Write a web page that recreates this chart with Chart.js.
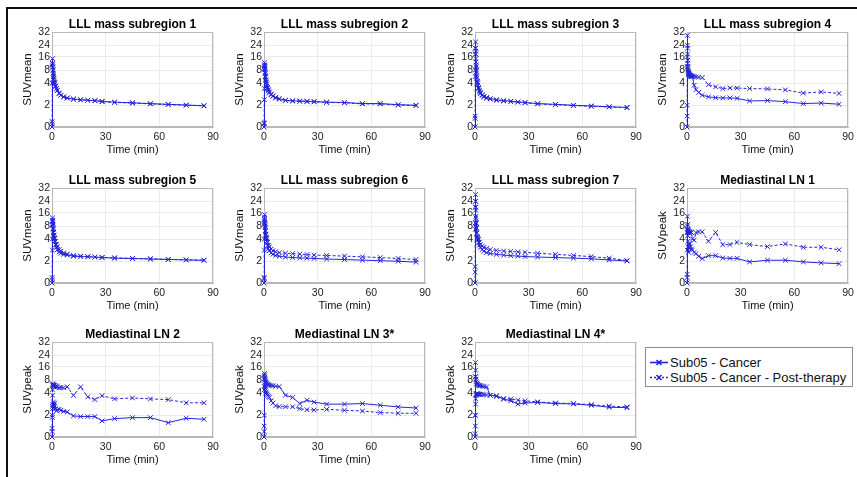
<!DOCTYPE html>
<html><head><meta charset="utf-8">
<script src="https://cdn.jsdelivr.net/npm/chart.js@4.4.1/dist/chart.umd.min.js"></script>
<style>
html,body{margin:0;padding:0;background:#fff;width:857px;height:477px;overflow:hidden;font-family:"Liberation Sans",Arial,sans-serif;}
#frame{position:absolute;left:6px;top:7px;width:870px;height:490px;border-left:2px solid #111;border-top:2px solid #111;}
canvas{position:absolute;}
#legend{position:absolute;left:645px;top:347px;width:208px;height:40px;border:1px solid #8a8a8a;background:#fff;box-sizing:border-box;}
.row{position:absolute;left:3px;height:15px;font-size:13px;line-height:15px;color:#111;white-space:nowrap;}
.row svg{position:absolute;left:0;top:3px;}
.row span{position:absolute;left:21px;top:0;}
</style></head><body>
<div id="frame"></div>
<script>
// ---- data ----
const TIME = [0, 0.08, 0.17, 0.25, 0.33, 0.42, 0.5, 0.67, 0.83, 1.0, 1.25, 1.5, 2.0, 2.5, 3.0, 4.0, 5.0, 6.5, 8.5, 12, 16, 20, 24, 28, 35, 45, 55, 65, 75, 85];
const X_TICKS = [0, 30, 60, 90];
const Y_TICKS = [0, 2, 4, 8, 16, 24, 32];
const TITLES = ["LLL mass subregion 1", "LLL mass subregion 2", "LLL mass subregion 3", "LLL mass subregion 4",
  "LLL mass subregion 5", "LLL mass subregion 6", "LLL mass subregion 7", "Mediastinal LN 1",
  "Mediastinal LN 2", "Mediastinal LN 3*", "Mediastinal LN 4*"];
const Y_LABELS = ["SUVmean", "SUVmean", "SUVmean", "SUVmean", "SUVmean", "SUVmean", "SUVmean",
  "SUVpeak", "SUVpeak", "SUVpeak", "SUVpeak"];
const SERIES_NAMES = ["Sub05 - Cancer", "Sub05 - Cancer - Post-therapy"];

const C1 = [0, 0.3, 4, 12, 15, 12, 10, 8, 6.5, 5.5, 4.2, 3.9, 3.7, 3.5, 3.3, 3.05, 2.9, 2.75, 2.65, 2.55, 2.5, 2.45, 2.42, 2.35, 2.28, 2.22, 2.15, 2.08, 2.02, 1.96];
const P1 = [0, 0.5, 4, 11, 12, 9.5, 8, 7, 6, 5, 4.3, 4.0, 3.75, 3.5, 3.35, 3.1, 2.9, 2.75, 2.65, 2.55, 2.48, 2.45, 2.4, 2.32, 2.25, 2.2, 2.12, 2.06, 2.0, 1.94];
const C2 = [0, 0.4, 3.5, 10, 12.5, 11, 9, 7.5, 6, 5, 4.3, 3.9, 3.6, 3.4, 3.2, 3.0, 2.85, 2.7, 2.6, 2.45, 2.4, 2.38, 2.36, 2.34, 2.28, 2.25, 2.15, 2.15, 2.05, 2.0];
const P2 = [0, 0.3, 2.5, 9, 11, 10, 8.5, 7, 5.8, 4.8, 4.1, 3.7, 3.5, 3.3, 3.1, 2.95, 2.8, 2.65, 2.55, 2.42, 2.38, 2.35, 2.33, 2.3, 2.25, 2.22, 2.12, 2.12, 2.02, 1.97];
const C3 = [0, 1, 8, 22, 26, 20, 15, 11, 8, 6, 4.5, 4.0, 3.6, 3.35, 3.15, 2.95, 2.8, 2.7, 2.6, 2.5, 2.42, 2.36, 2.3, 2.25, 2.15, 2.08, 2.0, 1.93, 1.86, 1.8];
const P3 = [0, 0.8, 6, 18, 22, 18, 13, 10, 7.5, 5.5, 4.3, 3.8, 3.5, 3.25, 3.05, 2.88, 2.74, 2.64, 2.55, 2.45, 2.38, 2.33, 2.28, 2.22, 2.12, 2.05, 1.97, 1.9, 1.84, 1.77];
const C4 = [0, 2, 16, 30, 22, 14, 10, 8, 7.2, 6.8, 6.5, 6.3, 6.1, 6.0, 5.9, 3.8, 3.4, 3.15, 2.9, 2.76, 2.68, 2.65, 2.66, 2.62, 2.38, 2.42, 2.32, 2.15, 2.2, 2.09];
const P4 = [0, 1, 10, 24, 18, 12, 9, 7.5, 7, 6.7, 6.5, 6.4, 6.3, 6.2, 6.1, 6.0, 5.9, 5.8, 5.7, 3.85, 3.65, 3.5, 3.56, 3.55, 3.5, 3.47, 3.38, 3.09, 3.2, 3.06];
const C5 = [0, 0.5, 4, 11, 13, 11, 9, 7.5, 6, 5, 4.2, 3.8, 3.5, 3.25, 3.05, 2.85, 2.72, 2.62, 2.55, 2.45, 2.42, 2.4, 2.37, 2.33, 2.28, 2.24, 2.2, 2.16, 2.12, 2.08];
const P5 = [0, 0.3, 3, 9, 11.5, 10, 8.5, 7, 6, 5.2, 4.5, 4.1, 3.8, 3.5, 3.3, 3.05, 2.9, 2.75, 2.65, 2.52, 2.46, 2.42, 2.38, 2.35, 2.3, 2.26, 2.22, 2.17, 2.13, 2.1];
const C6 = [0, 0.5, 4, 12, 15, 12, 9.5, 8, 6.5, 5.2, 4.3, 3.8, 3.4, 3.15, 2.95, 2.75, 2.62, 2.52, 2.45, 2.38, 2.33, 2.3, 2.28, 2.25, 2.2, 2.15, 2.1, 2.05, 2.0, 1.92];
const P6 = [0, 0.4, 3, 10, 13, 11, 9, 7.5, 6.5, 5.5, 4.6, 4.1, 3.7, 3.45, 3.3, 3.1, 2.95, 2.85, 2.78, 2.72, 2.68, 2.64, 2.6, 2.56, 2.52, 2.46, 2.4, 2.33, 2.25, 2.15];
const C7 = [0, 1.5, 10, 24, 28, 20, 14, 10, 7.5, 5.8, 4.5, 4.0, 3.7, 3.45, 3.25, 3.05, 2.9, 2.78, 2.7, 2.62, 2.55, 2.5, 2.46, 2.42, 2.38, 2.33, 2.28, 2.22, 2.12, 2.02];
const P7 = [0, 1, 7, 20, 24, 18, 13, 9.5, 7.2, 5.8, 4.8, 4.3, 3.95, 3.7, 3.5, 3.35, 3.25, 3.15, 3.05, 2.98, 2.92, 2.88, 2.84, 2.8, 2.72, 2.62, 2.52, 2.42, 2.28, 2.06];
const C8 = [0, 0.8, 6, 14, 9, 5, 3.8, 3.3, 2.8, 3.2, 3.5, 3.6, 3.3, 3.1, 3.0, 2.8, 2.68, 2.45, 2.24, 2.5, 2.5, 2.29, 2.26, 2.26, 1.94, 2.09, 2.09, 1.94, 1.85, 1.78];
const P8 = [0, 0.5, 3, 8, 7, 6.5, 6.8, 6.2, 6.5, 6.0, 6.3, 5.8, 6.2, 6.0, 4.0, 3.9, 6.0, 6.2, 6.2, 3.8, 6.0, 3.5, 3.5, 3.7, 3.5, 3.32, 3.56, 3.26, 3.26, 3.03];
const C9 = [0, 0.8, 1.8, 2.8, 3.8, 3.0, 2.6, 2.9, 3.2, 2.7, 2.9, 3.1, 2.6, 2.4, 2.5, 2.53, 2.45, 2.35, 2.29, 1.94, 1.88, 1.88, 1.88, 1.48, 1.69, 1.78, 1.78, 1.32, 1.72, 1.63];
const P9 = [0, 0.5, 2, 5, 6.8, 6.5, 6.2, 6.6, 6.0, 6.4, 6.1, 6.3, 5.8, 6.2, 5.9, 5.6, 5.7, 5.6, 5.9, 3.79, 5.9, 3.65, 3.41, 3.76, 3.47, 3.56, 3.47, 3.41, 3.12, 3.12];
const C10 = [0, 1, 5, 11, 12, 10, 9, 8, 7.5, 7.2, 7, 6.8, 6.6, 6.5, 6.4, 6.3, 6.2, 6.1, 6.0, 3.8, 3.6, 3.05, 3.35, 3.18, 3.0, 3.0, 3.05, 2.9, 2.75, 2.65];
const P10 = [0, 0.5, 2, 6, 9, 8, 6.5, 5.5, 4.8, 4.3, 4.0, 3.9, 3.8, 3.7, 3.6, 3.3, 3.1, 2.85, 2.78, 2.76, 2.76, 2.6, 2.5, 2.47, 2.53, 2.45, 2.38, 2.24, 2.18, 2.18];
const C11 = [0, 2, 10, 19, 14, 10, 8.5, 7.5, 7, 6.8, 6.6, 6.5, 6.4, 6.3, 6.2, 6.1, 6.0, 5.9, 3.8, 3.7, 3.45, 3.3, 3.0, 3.1, 3.15, 3.05, 3.02, 2.9, 2.72, 2.68];
const P11 = [0, 0.3, 1, 2, 3, 3.5, 3.8, 3.9, 3.92, 3.93, 3.92, 3.9, 3.9, 3.88, 3.88, 3.87, 3.85, 3.83, 3.8, 3.75, 3.5, 3.45, 3.35, 3.3, 3.2, 3.1, 3.05, 2.95, 2.82, 2.75];

const CANCER = [C1, C2, C3, C4, C5, C6, C7, C8, C9, C10, C11];
const POST = [P1, P2, P3, P4, P5, P6, P7, P8, P9, P10, P11];

// ---- styling / layout ----
const BLUE = '#2424d6';
const FONT = '"Liberation Sans", Arial, sans-serif';
const COL_LEFT = [8, 220, 431, 643];
const ROW_TOP = [8, 164, 318];
// fractional height of each y tick (the reference axis is non-uniform)
const Y_TICK_POS = [0, 0.229, 0.463, 0.6, 0.737, 0.86, 1];

function yFrac(v) {
  if (v <= Y_TICKS[0]) return Y_TICK_POS[0];
  for (let i = 0; i < Y_TICKS.length - 1; i++) {
    if (v <= Y_TICKS[i + 1]) {
      const t = (v - Y_TICKS[i]) / (Y_TICKS[i + 1] - Y_TICKS[i]);
      return Y_TICK_POS[i] + t * (Y_TICK_POS[i + 1] - Y_TICK_POS[i]);
    }
  }
  return 1;
}
function yInv(f) {
  for (let i = 0; i < Y_TICKS.length - 1; i++) {
    if (f <= Y_TICK_POS[i + 1]) {
      const t = (f - Y_TICK_POS[i]) / (Y_TICK_POS[i + 1] - Y_TICK_POS[i]);
      return Y_TICKS[i] + t * (Y_TICKS[i + 1] - Y_TICKS[i]);
    }
  }
  return Y_TICKS[Y_TICKS.length - 1];
}

class SuvScale extends Chart.LinearScale {
  buildTicks() { return Y_TICKS.map(v => ({ value: v })); }
  getPixelForValue(v) {
    if (v === null || v === undefined || isNaN(v)) return NaN;
    return this.getPixelForDecimal(yFrac(v));
  }
  getValueForPixel(p) { return yInv(this.getDecimalForPixel(p)); }
}
SuvScale.id = 'suv';
SuvScale.defaults = {};
Chart.register(SuvScale);

const boxPlugin = {
  id: 'axbox',
  beforeDatasetsDraw(chart) {
    const { ctx, chartArea: a } = chart;
    ctx.save();
    ctx.strokeStyle = '#b8b8b8';
    ctx.lineWidth = 1;
    ctx.strokeRect(Math.round(a.left) + 0.5, Math.round(a.top) + 0.5, Math.round(a.right - a.left) - 1, Math.round(a.bottom - a.top) - 1);
    ctx.restore();
  }
};

function dataset(vals, idx) {
  return {
    label: SERIES_NAMES[idx],
    data: TIME.map((t, k) => ({ x: t, y: vals[k] })),
    borderColor: BLUE,
    backgroundColor: BLUE,
    borderWidth: 1,
    borderDash: idx === 1 ? [3, 2] : [],
    pointStyle: 'crossRot',
    pointRadius: 3.3,
    pointBorderWidth: 1,
    pointBorderColor: BLUE,
    fill: false,
    tension: 0,
    clip: false
  };
}

function makeChart(i) {
  const cv = document.createElement('canvas');
  const W = 212, H = 151;
  cv.width = W; cv.height = H;
  cv.style.width = W + 'px'; cv.style.height = H + 'px';
  cv.style.left = COL_LEFT[i % 4] + 'px';
  cv.style.top = ROW_TOP[Math.floor(i / 4)] + 'px';
  document.body.appendChild(cv);
  const gridOpts = { color: '#ebebeb', drawTicks: false, lineWidth: 1 };
  new Chart(cv, {
    type: 'line',
    data: { datasets: [dataset(CANCER[i], 0), dataset(POST[i], 1)] },
    plugins: [boxPlugin],
    options: {
      responsive: false,
      animation: false,
      events: [],
      layout: { padding: { left: 0, right: 7, top: 0, bottom: 0 } },
      plugins: {
        legend: { display: false },
        tooltip: { enabled: false },
        title: {
          display: true, text: TITLES[i], fullSize: false, color: '#000',
          font: { family: FONT, size: 12, weight: 'bold', lineHeight: 1.2 },
          padding: { top: 9, bottom: 0.6 }
        }
      },
      scales: {
        x: {
          type: 'linear', min: 0, max: 90,
          afterBuildTicks: s => { s.ticks = X_TICKS.map(v => ({ value: v })); },
          afterFit: s => { s.height = 32; s.paddingLeft = 0; s.paddingRight = 0; },
          ticks: { autoSkip: false, maxRotation: 0, padding: 4, color: '#222', font: { family: FONT, size: 10.5 } },
          grid: gridOpts,
          border: { color: '#b8b8b8' },
          title: { display: true, text: 'Time (min)', color: '#111', font: { family: FONT, size: 11, lineHeight: 1.2 }, padding: { top: 0, bottom: 2 } }
        },
        y: {
          type: 'suv', min: 0, max: 32,
          afterFit: s => { s.width = 44; s.paddingTop = 0; s.paddingBottom = 0; },
          ticks: { autoSkip: false, padding: 2, color: '#222', font: { family: FONT, size: 10.5 }, callback: v => String(v) },
          grid: gridOpts,
          border: { color: '#b8b8b8' },
          title: { display: true, text: Y_LABELS[i], color: '#111', font: { family: FONT, size: 11.5, lineHeight: 1.2 }, padding: { top: 13, bottom: 0 } }
        }
      }
    }
  });
}

for (let i = 0; i < TITLES.length; i++) makeChart(i);

// legend
const lg = document.createElement('div');
lg.id = 'legend';
SERIES_NAMES.forEach((name, k) => {
  const r = document.createElement('div');
  r.className = 'row';
  r.style.top = (k === 0 ? 7 : 22) + 'px';
  const dash = k === 1 ? ' stroke-dasharray="2,2"' : '';
  r.innerHTML = '<svg width="20" height="9"><line x1="1" y1="4.5" x2="19" y2="4.5" stroke="' + BLUE + '" stroke-width="1.6"' + dash + '/>' +
    '<path d="M7.5 2 L12.5 7 M12.5 2 L7.5 7" stroke="' + BLUE + '" stroke-width="1.6"/></svg><span></span>';
  r.querySelector('span').textContent = name;
  lg.appendChild(r);
});
document.body.appendChild(lg);
</script>
</body></html>
